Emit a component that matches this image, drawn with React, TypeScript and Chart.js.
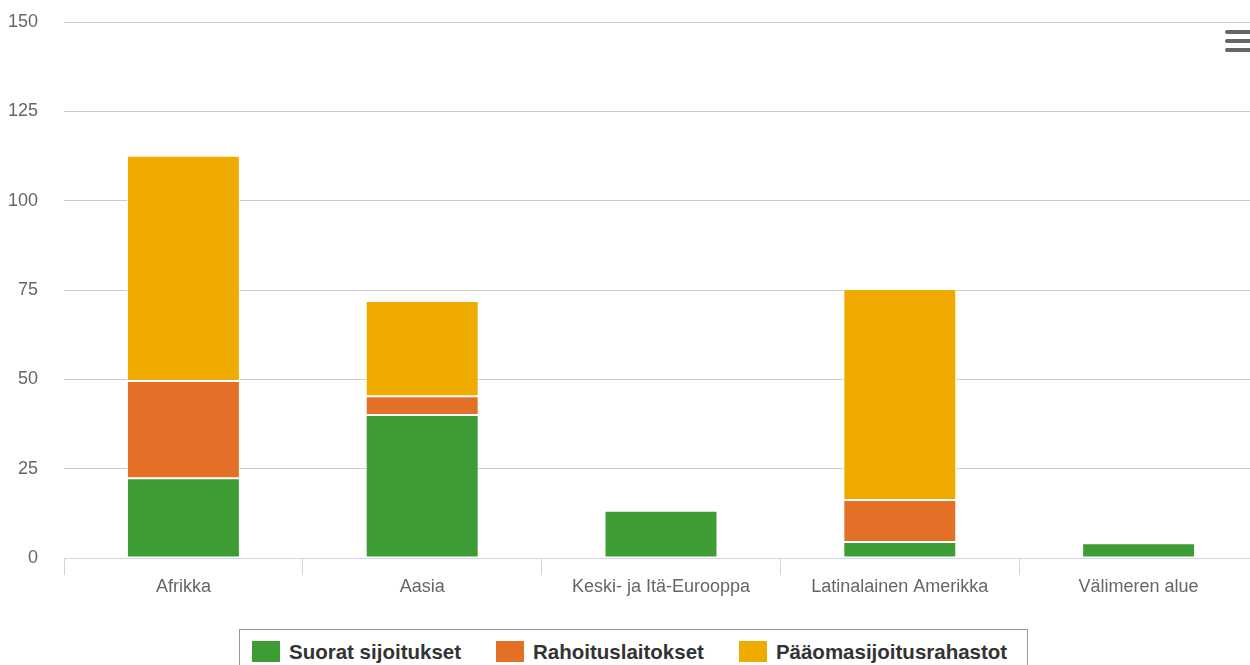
import { useEffect, useRef } from 'react'
import { Chart, registerables } from 'chart.js'

Chart.register(...registerables)

// alueet ja sarjat
const regions = ['Afrikka', 'Aasia', 'Keski- ja Itä-Eurooppa', 'Latinalainen Amerikka', 'Välimeren alue']
const directInvestments = [22.3, 40.0, 13.2, 4.5, 4.1]
const financeInstitutions = [27.2, 5.3, 0, 11.7, 0]
const equityFunds = [63.1, 26.6, 0, 59.1, 0]

const seriesNames = ['Suorat sijoitukset', 'Rahoituslaitokset', 'Pääomasijoitusrahastot']
const seriesColors = ['#3e9c35', '#e37026', '#f0ab00']

const yTicks = { min: 0, max: 150, step: 25 }

const FONT = '"Liberation Sans", Arial, sans-serif'

export default function App() {
  const chartRef = useRef<HTMLCanvasElement>(null)
  const chartInstance = useRef<Chart | null>(null)

  useEffect(() => {
    if (!chartRef.current) return
    if (chartInstance.current) chartInstance.current.destroy()

    const values = [directInvestments, financeInstitutions, equityFunds]

    chartInstance.current = new Chart(chartRef.current, {
      type: 'bar',
      data: {
        labels: regions,
        datasets: values.map((data, i) => ({
          label: seriesNames[i],
          data,
          backgroundColor: seriesColors[i],
          borderColor: '#ffffff',
          borderWidth: 1,
          borderSkipped: false,
          categoryPercentage: 1,
          barPercentage: 0.473,
        })),
      },
      options: {
        responsive: false,
        animation: false,
        layout: { padding: { top: 22, right: 2, bottom: 0, left: 0 } },
        plugins: {
          legend: { display: false },
          tooltip: { enabled: false },
        },
        scales: {
          x: {
            stacked: true,
            grid: {
              offset: true,
              drawOnChartArea: false,
              drawTicks: true,
              tickLength: 17,
              color: '#ccd6eb',
            },
            border: { color: '#ccd6eb', width: 1 },
            ticks: {
              color: '#666666',
              font: { family: FONT, size: 18 },
              padding: 1,
              maxRotation: 0,
              autoSkip: false,
            },
            afterFit: (scale: any) => {
              scale.height = 50
              scale.paddingLeft = 0
              scale.paddingRight = 0
            },
          },
          y: {
            stacked: true,
            min: yTicks.min,
            max: yTicks.max,
            grid: { color: '#cccccc', drawTicks: false },
            border: { display: false },
            ticks: {
              stepSize: yTicks.step,
              color: '#666666',
              font: { family: FONT, size: 18 },
              padding: 26,
            },
            afterFit: (scale: any) => {
              scale.width = 64
              scale.paddingTop = 0
              scale.paddingBottom = 0
            },
          },
        },
      },
    } as any)

    return () => {
      if (chartInstance.current) {
        chartInstance.current.destroy()
        chartInstance.current = null
      }
    }
  }, [])

  return (
    <div
      style={{
        position: 'fixed',
        left: 0,
        top: 0,
        width: 1250,
        height: 665,
        overflow: 'hidden',
        background: '#fff',
        fontFamily: FONT,
      }}
    >
      <canvas ref={chartRef} width={1260} height={608} style={{ display: 'block' }}></canvas>

      {/* valikkokuvake */}
      {[30, 39, 48].map((y) => (
        <div
          key={y}
          style={{
            position: 'absolute',
            left: 1225,
            top: y,
            width: 30,
            height: 4,
            borderRadius: 2,
            background: '#666666',
          }}
        />
      ))}

      {/* selite */}
      <div
        style={{
          position: 'absolute',
          left: 239,
          top: 629,
          width: 789,
          height: 50,
          border: '1px solid #999999',
          boxSizing: 'border-box',
          display: 'flex',
          alignItems: 'flex-start',
          paddingLeft: 12,
          paddingTop: 11,
          whiteSpace: 'nowrap',
        }}
      >
        {seriesNames.map((name, i) => (
          <div key={name} style={{ display: 'flex', alignItems: 'center', marginRight: 35 }}>
            <div style={{ width: 28, height: 21, background: seriesColors[i], marginRight: 9 }} />
            <span style={{ fontWeight: 'bold', fontSize: 20.5, color: '#333333', lineHeight: '21px' }}>{name}</span>
          </div>
        ))}
      </div>
    </div>
  )
}
